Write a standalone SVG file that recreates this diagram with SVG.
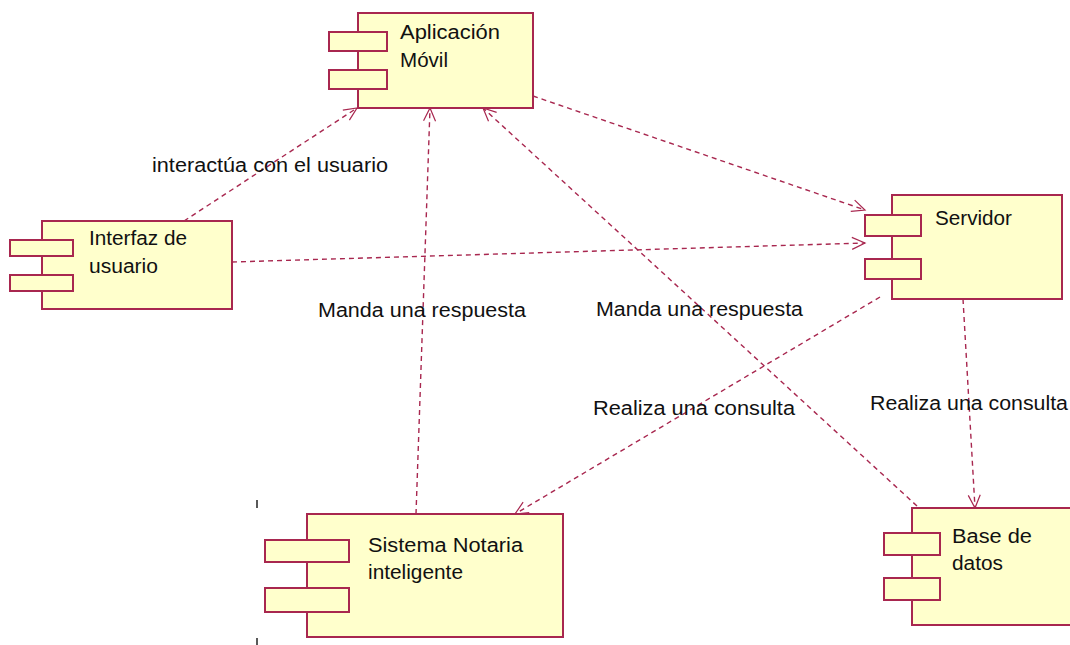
<svg xmlns="http://www.w3.org/2000/svg" width="1070" height="645" viewBox="0 0 1070 645">
<defs>
<marker id="arr" markerWidth="16" markerHeight="14" refX="14" refY="7" orient="auto" markerUnits="userSpaceOnUse">
<path d="M1,1 L14,7 L1,13" fill="none" stroke="#a8274f" stroke-width="1.2"/>
</marker>
</defs>
<style>
.box{fill:#ffffcc;stroke:#a8274f;stroke-width:2}
.conn{fill:none;stroke:#a8274f;stroke-width:1.4;stroke-dasharray:5,4;marker-end:url(#arr)}
text{font-family:"Liberation Sans",Arial,sans-serif;font-size:20px;fill:#111}
</style>
<rect width="1070" height="645" fill="#ffffff"/>
<g id="connectors">
<path class="conn" d="M184,221 L357,108"/>
<path class="conn" d="M232,262 L865,243"/>
<path class="conn" d="M533,96 L865,210"/>
<path class="conn" d="M416,514 L430,108"/>
<path class="conn" d="M917,506 L483,108"/>
<path class="conn" d="M880,297 L515,514"/>
<path class="conn" d="M963,299 L975,508"/>
</g>
<g id="labels">
<text x="152" y="172" textLength="236" lengthAdjust="spacingAndGlyphs">interactúa con el usuario</text>
<text x="318" y="317" textLength="208" lengthAdjust="spacingAndGlyphs">Manda una respuesta</text>
<text x="596" y="316" textLength="207" lengthAdjust="spacingAndGlyphs">Manda una respuesta</text>
<text x="593" y="415" textLength="202" lengthAdjust="spacingAndGlyphs">Realiza una consulta</text>
<text x="870" y="410" textLength="198" lengthAdjust="spacingAndGlyphs">Realiza una consulta</text>
</g>
<g id="aplicacion">
<rect class="box" x="358" y="13" width="175" height="95"/>
<rect class="box" x="329" y="32" width="58" height="19"/>
<rect class="box" x="329" y="70" width="58" height="19"/>
<text x="400" y="39" textLength="100" lengthAdjust="spacingAndGlyphs">Aplicación</text>
<text x="400" y="67" textLength="48" lengthAdjust="spacingAndGlyphs">Móvil</text>
</g>
<g id="interfaz">
<rect class="box" x="42" y="221" width="190" height="88"/>
<rect class="box" x="10" y="240" width="63" height="16"/>
<rect class="box" x="10" y="275" width="63" height="16"/>
<text x="89" y="245" textLength="98" lengthAdjust="spacingAndGlyphs">Interfaz de</text>
<text x="89" y="273" textLength="69" lengthAdjust="spacingAndGlyphs">usuario</text>
</g>
<g id="servidor">
<rect class="box" x="892" y="195" width="170" height="104"/>
<rect class="box" x="865" y="215" width="56" height="21"/>
<rect class="box" x="865" y="259" width="56" height="20"/>
<text x="935" y="225" textLength="77" lengthAdjust="spacingAndGlyphs">Servidor</text>
</g>
<g id="sistema">
<rect class="box" x="307" y="514" width="256" height="123"/>
<rect class="box" x="265" y="540" width="84" height="22"/>
<rect class="box" x="265" y="588" width="84" height="24"/>
<text x="368" y="552" textLength="155" lengthAdjust="spacingAndGlyphs">Sistema Notaria</text>
<text x="368" y="579" textLength="95" lengthAdjust="spacingAndGlyphs">inteligente</text>
</g>
<g id="basedatos">
<rect class="box" x="912" y="508" width="170" height="117"/>
<rect class="box" x="884" y="533" width="56" height="22"/>
<rect class="box" x="884" y="578" width="56" height="22"/>
<text x="952" y="543" textLength="80" lengthAdjust="spacingAndGlyphs">Base de</text>
<text x="952" y="570" textLength="51" lengthAdjust="spacingAndGlyphs">datos</text>
</g>
<g id="ticks" stroke="#222" stroke-width="1.5">
<line x1="257" y1="500" x2="257" y2="508"/>
<line x1="257" y1="638" x2="257" y2="645"/>
</g>
</svg>
